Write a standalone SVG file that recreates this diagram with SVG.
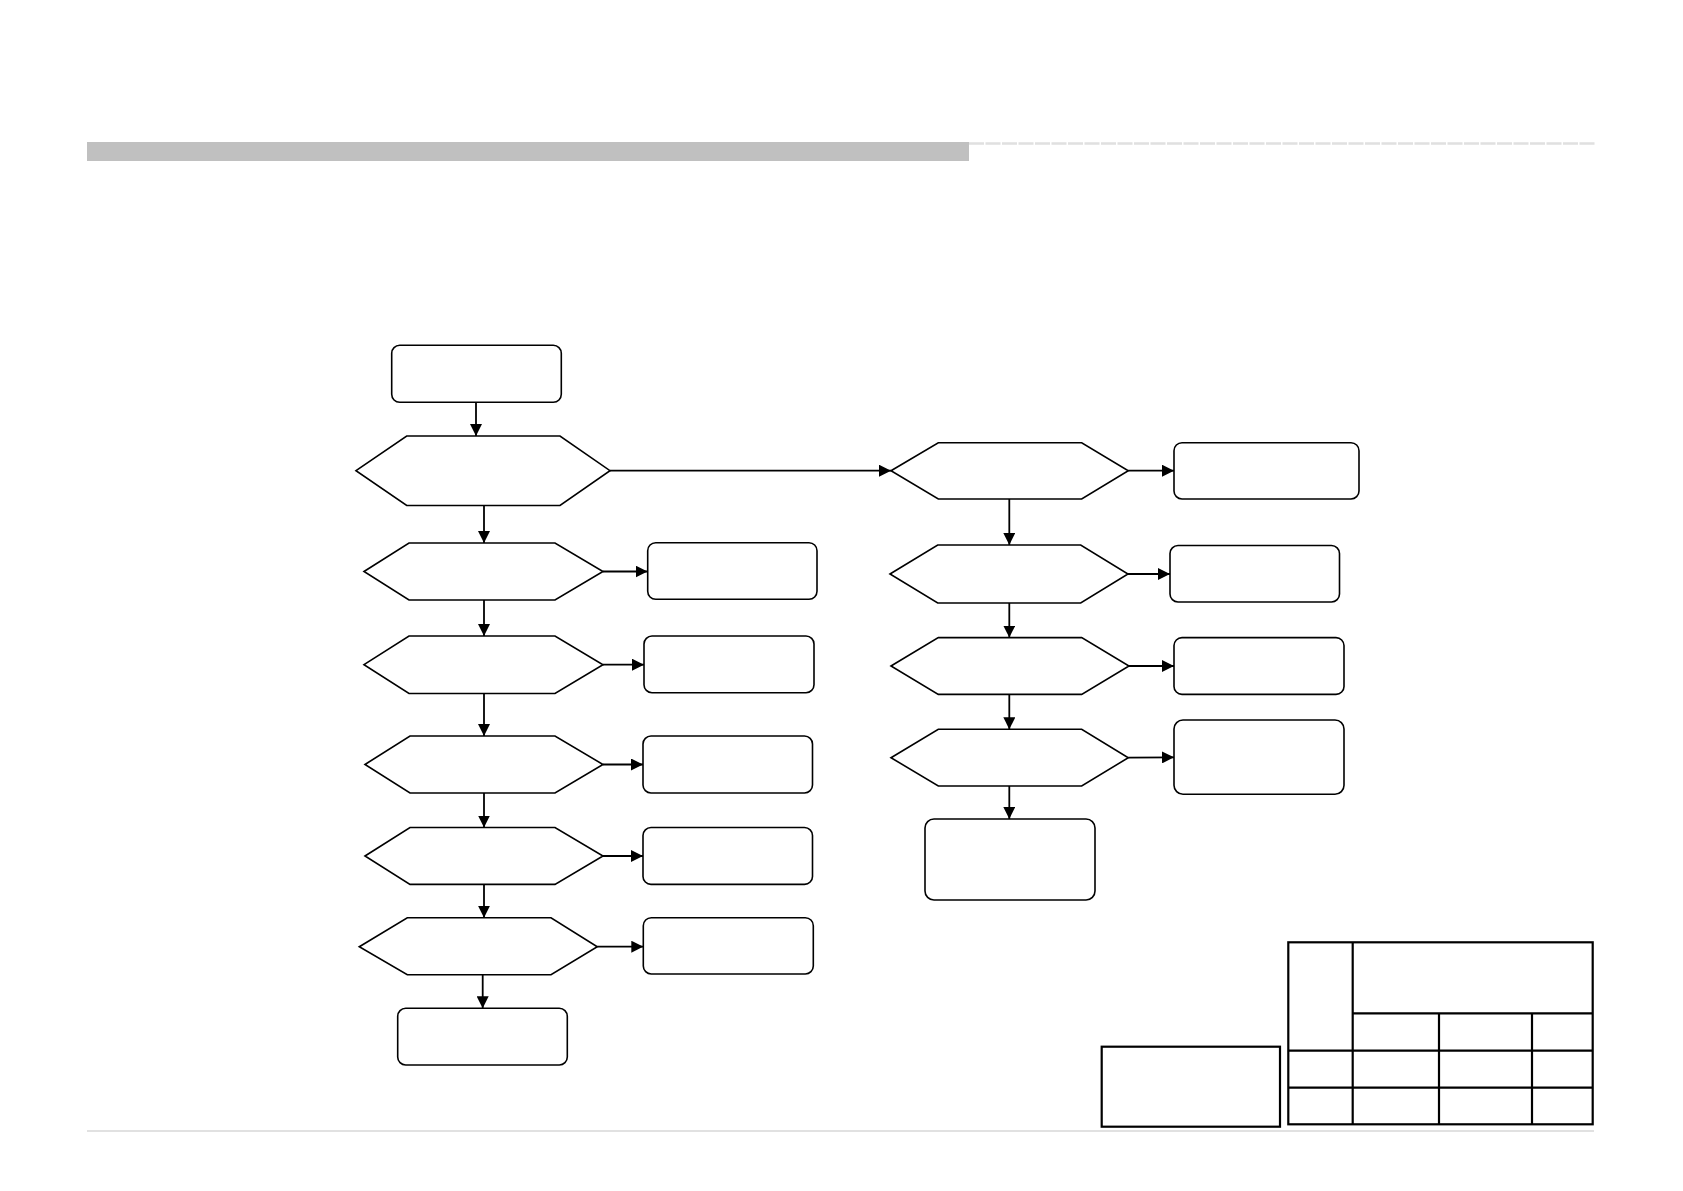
<svg xmlns="http://www.w3.org/2000/svg" width="1683" height="1191" viewBox="0 0 1683 1191">
<style>
.n{fill:#fff;stroke:#000;stroke-width:1.6}
.c{fill:none;stroke:#000;stroke-width:1.8}
.t{fill:none;stroke:#000;stroke-width:2.2}
</style>
<defs>
<marker id="ah" viewBox="0 0 10 10" refX="10" refY="5" markerWidth="12" markerHeight="12" markerUnits="userSpaceOnUse" orient="auto">
<path d="M0,0 L10,5 L0,10 z" fill="#000"/>
</marker>
</defs>
<rect width="1683" height="1191" fill="#fff"/>
<rect x="87" y="142" width="882" height="19" fill="#c0c0c0"/>
<line x1="969" y1="143.5" x2="1595" y2="143.5" stroke="#e0e0e0" stroke-width="2.5" stroke-dasharray="15,1.5"/>
<line x1="87" y1="1131" x2="1594" y2="1131" stroke="#c4c4c4" stroke-width="1.2"/>

<g id="connectors">
<line class="c" x1="476" y1="402.5" x2="476" y2="436" marker-end="url(#ah)"/>
<line class="c" x1="610" y1="470.7" x2="891" y2="470.7" marker-end="url(#ah)"/>
<line class="c" x1="484" y1="505.5" x2="484" y2="543" marker-end="url(#ah)"/>
<line class="c" x1="603" y1="571.5" x2="647.5" y2="571.5" marker-end="url(#ah)"/>
<line class="c" x1="484" y1="600" x2="484" y2="636" marker-end="url(#ah)"/>
<line class="c" x1="603" y1="664.7" x2="644" y2="664.7" marker-end="url(#ah)"/>
<line class="c" x1="484" y1="693.5" x2="484" y2="736" marker-end="url(#ah)"/>
<line class="c" x1="603" y1="764.5" x2="643" y2="764.5" marker-end="url(#ah)"/>
<line class="c" x1="484" y1="793" x2="484" y2="827.5" marker-end="url(#ah)"/>
<line class="c" x1="603" y1="856" x2="643" y2="856" marker-end="url(#ah)"/>
<line class="c" x1="484" y1="884.4" x2="484" y2="917.7" marker-end="url(#ah)"/>
<line class="c" x1="597.3" y1="946.7" x2="643.3" y2="946.7" marker-end="url(#ah)"/>
<line class="c" x1="482.7" y1="974.7" x2="482.7" y2="1008.3" marker-end="url(#ah)"/>
<line class="c" x1="1128.3" y1="470.7" x2="1174" y2="470.7" marker-end="url(#ah)"/>
<line class="c" x1="1009.3" y1="499" x2="1009.3" y2="545" marker-end="url(#ah)"/>
<line class="c" x1="1128" y1="574" x2="1170" y2="574" marker-end="url(#ah)"/>
<line class="c" x1="1009.3" y1="603" x2="1009.3" y2="637.6" marker-end="url(#ah)"/>
<line class="c" x1="1129" y1="666" x2="1174" y2="666" marker-end="url(#ah)"/>
<line class="c" x1="1009.3" y1="694.4" x2="1009.3" y2="729.3" marker-end="url(#ah)"/>
<line class="c" x1="1128.3" y1="757.7" x2="1174" y2="757.3" marker-end="url(#ah)"/>
<line class="c" x1="1009.3" y1="786" x2="1009.3" y2="819" marker-end="url(#ah)"/>
</g>

<g id="start"><rect class="n" x="391.7" y="345.3" width="169.6" height="57" rx="8"/></g>
<g id="d1"><polygon class="n" points="356,470.7 406.7,436 560,436 610,470.7 560,505.5 406.7,505.5"/></g>
<g id="d2"><polygon class="n" points="364,571.5 409,543 555,543 603,571.5 555,600 409,600"/></g>
<g id="r2"><rect class="n" x="647.7" y="542.7" width="169.3" height="56.6" rx="8"/></g>
<g id="d3"><polygon class="n" points="364,664.7 409,636 555,636 603,664.7 555,693.5 409,693.5"/></g>
<g id="r3"><rect class="n" x="644" y="636" width="170" height="56.7" rx="8"/></g>
<g id="d4"><polygon class="n" points="365,764.5 410,736 555,736 603,764.5 555,793 410,793"/></g>
<g id="r4"><rect class="n" x="643" y="736" width="169.5" height="57" rx="8"/></g>
<g id="d5"><polygon class="n" points="365,856 410,827.5 555,827.5 603,856 555,884.4 410,884.4"/></g>
<g id="r5"><rect class="n" x="643" y="827.5" width="169.5" height="56.9" rx="8"/></g>
<g id="d6"><polygon class="n" points="359.3,946.7 407.3,917.7 551,917.7 597.3,946.7 551,974.7 407.3,974.7"/></g>
<g id="r6"><rect class="n" x="643.3" y="917.7" width="170" height="56.3" rx="8"/></g>
<g id="end1"><rect class="n" x="397.7" y="1008.3" width="169.6" height="56.7" rx="8"/></g>

<g id="e1"><polygon class="n" points="891,470.7 938.3,442.7 1081.7,442.7 1128.3,470.7 1081.7,499 938.3,499"/></g>
<g id="f1"><rect class="n" x="1174" y="442.7" width="185" height="56.3" rx="8"/></g>
<g id="e2"><polygon class="n" points="890,574 937.7,545 1080.7,545 1128,574 1080.7,603 937.7,603"/></g>
<g id="f2"><rect class="n" x="1170" y="545.5" width="169.5" height="56.5" rx="8"/></g>
<g id="e3"><polygon class="n" points="891,666 938.3,637.6 1081.7,637.6 1129,666 1081.7,694.4 938.3,694.4"/></g>
<g id="f3"><rect class="n" x="1174" y="637.6" width="170" height="56.8" rx="8"/></g>
<g id="e4"><polygon class="n" points="891,757.7 938.3,729.3 1081.7,729.3 1128.3,757.7 1081.7,786 938.3,786"/></g>
<g id="f4"><rect class="n" x="1174" y="720" width="170" height="74.3" rx="9"/></g>
<g id="end2"><rect class="n" x="925" y="819" width="170" height="81" rx="9"/></g>

<g id="notebox"><rect class="t" x="1101.7" y="1046.7" width="178.3" height="80"/></g>
<g id="titleblock">
<rect class="t" x="1288.3" y="942.3" width="304.4" height="182"/>
<line class="t" x1="1352.7" y1="942.3" x2="1352.7" y2="1124.3"/>
<line class="t" x1="1352.7" y1="1013.3" x2="1592.7" y2="1013.3"/>
<line class="t" x1="1439" y1="1013.3" x2="1439" y2="1124.3"/>
<line class="t" x1="1532" y1="1013.3" x2="1532" y2="1124.3"/>
<line class="t" x1="1288.3" y1="1050.7" x2="1592.7" y2="1050.7"/>
<line class="t" x1="1288.3" y1="1087.7" x2="1592.7" y2="1087.7"/>
</g>
</svg>
